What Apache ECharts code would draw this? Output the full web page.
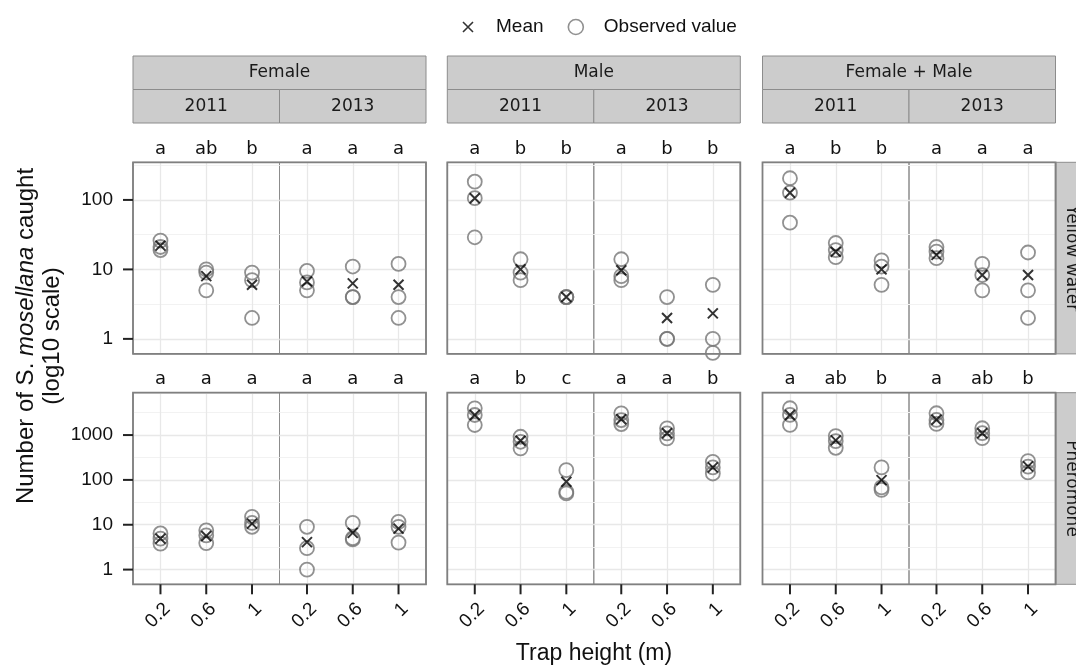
<!DOCTYPE html>
<html>
<head>
<meta charset="utf-8">
<script src="https://cdn.jsdelivr.net/npm/echarts@6/dist/echarts.min.js"></script>
<style>
  html, body { margin: 0; padding: 0; background: #ffffff; }
  #chart { width: 1076px; height: 668px; }
</style>
</head>
<body>
<div id="chart"></div>
<script>
// ---- data ---------------------------------------------------------------
const heights = ['0.2', '0.6', '1'];
const sexes = ['Female', 'Male', 'Female + Male'];
const years = ['2011', '2013'];
const traps = ['Yellow water', 'Pheromone'];
const yTickValues = [[1, 10, 100], [1, 10, 100, 1000]];

// observed counts: one inner array per trap height (0.2, 0.6, 1 m)
const yellowFemale2011 = [[26, 21, 19], [10, 9, 5], [9, 7, 2]];
const yellowFemale2013 = [[9.5, 6.5, 5], [11, 4, 4], [12, 4, 2]];
const yellowMale2011 = [[183, 106, 29], [14, 9, 7], [4, 4, 4]];
const yellowMale2013 = [[14, 8, 7], [4, 1, 1], [6, 1, 0.63]];
const yellowBoth2011 = [[205, 127, 47], [24, 19, 15], [13.5, 11, 6]];
const yellowBoth2013 = [[21, 18, 14.5], [12, 8.3, 5], [17.5, 5, 2]];

const pheromoneFemale2011 = [[6.4, 4.9, 3.8], [7.5, 5.8, 3.9], [15, 11, 9]];
const pheromoneFemale2013 = [[9, 3, 1], [11, 5, 4.7], [11.6, 9, 4]];
const pheromoneMale2011 = [[3950, 2800, 1675], [916, 708, 505], [165, 54, 50]];
const pheromoneMale2013 = [[3050, 2160, 1760], [1410, 1090, 844], [253, 190, 139]];
const pheromoneBoth2011 = [[3960, 2810, 1680], [948, 734, 520], [190, 68, 60]];
const pheromoneBoth2013 = [[3060, 2170, 1770], [1420, 1100, 850], [262, 198, 147]];

// mean count per trap height
const yellowFemale2011Mean = [22, 8, 6];
const yellowFemale2013Mean = [6.7, 6.3, 6];
const yellowMale2011Mean = [106, 10, 4];
const yellowMale2013Mean = [9.7, 2, 2.33];
const yellowBoth2011Mean = [127, 18, 10];
const yellowBoth2013Mean = [16.2, 8.3, 8.3];

const pheromoneFemale2011Mean = [4.9, 5.6, 10.6];
const pheromoneFemale2013Mean = [4.1, 6.6, 8.2];
const pheromoneMale2011Mean = [2800, 746, 91];
const pheromoneMale2013Mean = [2250, 1100, 190];
const pheromoneBoth2011Mean = [2800, 760, 99];
const pheromoneBoth2013Mean = [2200, 1100, 200];

// significance letters per panel (Female 2011, Female 2013, Male 2011, ...)
const yellowLetters = [['a', 'ab', 'b'], ['a', 'a', 'a'], ['a', 'b', 'b'], ['a', 'b', 'b'], ['a', 'b', 'b'], ['a', 'a', 'a']];
const pheromoneLetters = [['a', 'a', 'a'], ['a', 'a', 'a'], ['a', 'b', 'c'], ['a', 'a', 'b'], ['a', 'ab', 'b'], ['a', 'ab', 'b']];

const observed = [
  [yellowFemale2011, yellowFemale2013, yellowMale2011, yellowMale2013, yellowBoth2011, yellowBoth2013],
  [pheromoneFemale2011, pheromoneFemale2013, pheromoneMale2011, pheromoneMale2013, pheromoneBoth2011, pheromoneBoth2013]
];
const means = [
  [yellowFemale2011Mean, yellowFemale2013Mean, yellowMale2011Mean, yellowMale2013Mean, yellowBoth2011Mean, yellowBoth2013Mean],
  [pheromoneFemale2011Mean, pheromoneFemale2013Mean, pheromoneMale2011Mean, pheromoneMale2013Mean, pheromoneBoth2011Mean, pheromoneBoth2013Mean]
];
const letters = [yellowLetters, pheromoneLetters];

// ---- layout -------------------------------------------------------------
const panelLefts = [133, 279.5, 447.3, 593.8, 762.5, 909];
const panelWidth = 146.5;
const rowTops = [162.3, 392.7];
const rowHeight = 191.6;
const yRanges = [[0.608, 348], [0.47, 8800]];
const yMinorLines = [[0.3162, 3.162, 31.62, 316.2], [3.162, 31.62, 316.2, 3162]];
// discrete positions: height i sits at i + 0.6 on an axis running 0 .. 3.2
const slotOffset = 0.6;
const slotValues = [0.6, 1.6, 2.6];
const slotIndex = v => Math.round(v - slotOffset);

const SANS = '"Liberation Sans", Arial, Helvetica, sans-serif';
const DEJAVU = '"DejaVu Sans", Verdana, sans-serif';
const CROSS = 'path://M0,0L10,10M10,0L0,10';
const CROSS_LEGEND = 'path://M-2.5,-2.5M0,0L10,10M10,0L0,10M12.5,12.5';
const circleStyle = { color: 'rgba(0,0,0,0)', borderColor: '#767676', borderWidth: 1.8 };
const crossStyle = { color: 'none', borderColor: '#000000', borderWidth: 2 };
const tickColor = '#222222';
const tickLength = 10;

// short outward tick marks, placed through the axes of the grid they belong to
const yTickItem = (params, api) => {
  const p = api.coord([api.value(0), api.value(1)]);
  return { type: 'rect', shape: { x: p[0] - tickLength, y: p[1] - 1, width: tickLength, height: 2 },
    style: { fill: tickColor } };
};
const xTickItem = (params, api) => {
  const p = api.coord([api.value(0), api.value(1)]);
  return { type: 'rect', shape: { x: p[0] - 1, y: p[1], width: 2, height: tickLength },
    style: { fill: tickColor } };
};

const grids = [], xAxes = [], yAxes = [], series = [];

for (let r = 0; r < 2; r++) {
  for (let k = 0; k < 6; k++) {
    const gi = r * 6 + k;
    grids.push({
      left: panelLefts[k], top: rowTops[r], width: panelWidth, height: rowHeight,
      show: true, backgroundColor: 'transparent', borderColor: '#8c8c8c', borderWidth: 1,
      containLabel: false, outerBoundsMode: 'none'
    });
    // trap height axis
    xAxes.push({
      type: 'value', gridIndex: gi, min: 0, max: 3.2, position: 'bottom',
      axisLine: { show: false },
      axisTick: { show: false, customValues: slotValues },
      axisLabel: {
        show: r === 1, customValues: slotValues, rotate: 45, margin: 15,
        align: 'right', verticalAlign: 'top',
        formatter: v => heights[slotIndex(v)],
        fontFamily: SANS, fontSize: 19, color: '#111111'
      },
      splitLine: { show: true, lineStyle: { color: '#e8e8e8', width: 1.3 } }
    });
    // letters above each panel
    xAxes.push({
      type: 'value', gridIndex: gi, min: 0, max: 3.2, position: 'top',
      axisLine: { show: false }, axisTick: { show: false }, splitLine: { show: false },
      axisLabel: {
        customValues: slotValues, margin: 4,
        formatter: v => letters[r][k][slotIndex(v)],
        fontFamily: DEJAVU, fontSize: 18, color: '#111111'
      }
    });
    // count axis (log10)
    yAxes.push({
      type: 'log', logBase: 10, gridIndex: gi, min: yRanges[r][0], max: yRanges[r][1],
      axisLine: { show: false },
      axisTick: { show: false, customValues: yTickValues[r] },
      axisLabel: {
        show: k === 0, customValues: yTickValues[r], margin: 20,
        formatter: v => String(Math.round(v)),
        fontFamily: SANS, fontSize: 19, color: '#111111'
      },
      splitLine: { show: true, lineStyle: { color: '#e8e8e8', width: 1.3 } }
    });
    // minor grid lines halfway between decades
    yAxes.push({
      type: 'log', logBase: 10, gridIndex: gi, min: yRanges[r][0], max: yRanges[r][1],
      axisLine: { show: false },
      axisTick: { show: false, customValues: yMinorLines[r] },
      axisLabel: { show: false },
      splitLine: { show: true, lineStyle: { color: '#f2f2f2', width: 1 } }
    });

    const obsData = [];
    observed[r][k].forEach((vals, i) => vals.forEach(v => obsData.push([i + slotOffset, v])));
    series.push({
      type: 'scatter', name: 'Observed value', xAxisIndex: 2 * gi, yAxisIndex: 2 * gi,
      data: obsData, symbol: 'circle', symbolSize: 14, itemStyle: circleStyle,
      z: 3, silent: true
    });
    series.push({
      type: 'scatter', name: 'Mean', xAxisIndex: 2 * gi, yAxisIndex: 2 * gi,
      data: means[r][k].map((v, i) => [i + slotOffset, v]), symbol: CROSS, symbolSize: 10,
      itemStyle: crossStyle, z: 4, silent: true
    });

    if (k === 0) {
      series.push({
        type: 'custom', xAxisIndex: 2 * gi, yAxisIndex: 2 * gi, clip: false, silent: true,
        zlevel: 1, z: 50, renderItem: yTickItem,
        data: yTickValues[r].map(v => [0, v])
      });
    }
    if (r === 1) {
      series.push({
        type: 'custom', xAxisIndex: 2 * gi, yAxisIndex: 2 * gi, clip: false, silent: true,
        zlevel: 1, z: 50, renderItem: xTickItem,
        data: slotValues.map(v => [v, yRanges[r][0]])
      });
    }
  }
}

// ---- strips, outlines and titles ----------------------------------------
const graphics = [];
const stripFill = '#cccccc', stripStroke = '#8c8c8c';
const stripTop = 56, stripMid = 89.5, stripBottom = 123;

for (let s = 0; s < 3; s++) {
  const left = panelLefts[2 * s];
  graphics.push({
    type: 'rect', silent: true, z: 10,
    shape: { x: left, y: stripTop, width: 2 * panelWidth, height: stripMid - stripTop },
    style: { fill: stripFill, stroke: stripStroke, lineWidth: 1 }
  });
  graphics.push({
    type: 'text', silent: true, z: 11, x: left + panelWidth, y: (stripTop + stripMid) / 2,
    style: { text: sexes[s], font: '17px ' + DEJAVU, fill: '#1a1a1a',
      align: 'center', verticalAlign: 'middle', textAlign: 'center', textVerticalAlign: 'middle' }
  });
  for (let y = 0; y < 2; y++) {
    const l = panelLefts[2 * s + y];
    graphics.push({
      type: 'rect', silent: true, z: 10,
      shape: { x: l, y: stripMid, width: panelWidth, height: stripBottom - stripMid },
      style: { fill: stripFill, stroke: stripStroke, lineWidth: 1 }
    });
    graphics.push({
      type: 'text', silent: true, z: 11, x: l + panelWidth / 2, y: (stripMid + stripBottom) / 2,
      style: { text: years[y], font: '17px ' + DEJAVU, fill: '#1a1a1a',
        align: 'center', verticalAlign: 'middle', textAlign: 'center', textVerticalAlign: 'middle' }
    });
  }
  for (let r = 0; r < 2; r++) {
    graphics.push({
      type: 'rect', silent: true, z: 12,
      shape: { x: left, y: rowTops[r], width: 2 * panelWidth, height: rowHeight },
      style: { fill: 'none', stroke: '#808080', lineWidth: 1.8 }
    });
  }
}

for (let r = 0; r < 2; r++) {
  graphics.push({
    type: 'rect', silent: true, z: 10,
    shape: { x: 1056, y: rowTops[r], width: 34, height: rowHeight },
    style: { fill: stripFill, stroke: stripStroke, lineWidth: 1 }
  });
  graphics.push({
    type: 'text', silent: true, z: 11, x: 1071, y: rowTops[r] + rowHeight / 2,
    rotation: -Math.PI / 2,
    style: { text: traps[r], font: '17px ' + DEJAVU, fill: '#1a1a1a',
      align: 'center', verticalAlign: 'middle', textAlign: 'center', textVerticalAlign: 'middle' }
  });
}

graphics.push({
  type: 'text', silent: true, z: 11, x: 594, y: 654,
  style: { text: 'Trap height (m)', font: '23px ' + SANS, fill: '#111111',
    align: 'center', verticalAlign: 'middle', textAlign: 'center', textVerticalAlign: 'middle' }
});
graphics.push({
  type: 'text', silent: true, z: 11, x: 39, y: 336, rotation: Math.PI / 2,
  style: {
    text: 'Number of S. {i|mosellana} caught\n(log10 scale)',
    fontFamily: SANS, fontSize: 24, lineHeight: 26, fill: '#111111',
    align: 'center', verticalAlign: 'middle', textAlign: 'center', textVerticalAlign: 'middle',
    rich: { i: { fontFamily: SANS, fontSize: 24, fontStyle: 'italic', lineHeight: 26, fill: '#111111' } }
  }
});

const chart = echarts.init(document.getElementById('chart'), null, { renderer: 'canvas' });
chart.setOption({
  animation: false,
  backgroundColor: '#ffffff',
  legend: {
    left: 453, top: 12, itemWidth: 46, itemHeight: 15, itemGap: 24,
    selectedMode: false,
    textStyle: { fontFamily: SANS, fontSize: 19, color: '#111111' },
    data: [
      { name: 'Mean', icon: CROSS_LEGEND, itemStyle: { color: 'none', borderColor: '#000000', borderWidth: 1.6 } },
      { name: 'Observed value', icon: 'circle', itemStyle: { color: 'rgba(0,0,0,0)', borderColor: '#767676', borderWidth: 1.6 } }
    ]
  },
  grid: grids,
  xAxis: xAxes,
  yAxis: yAxes,
  series: series,
  graphic: { elements: graphics }
});
</script>
</body>
</html>
